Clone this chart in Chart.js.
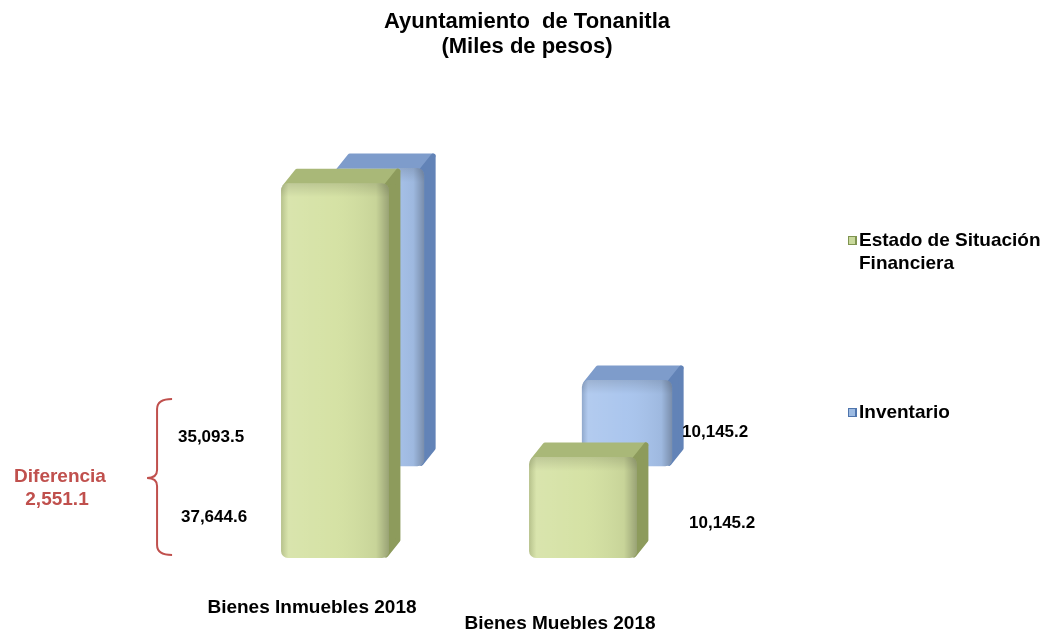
<!DOCTYPE html>
<html>
<head>
<meta charset="utf-8">
<script src="https://cdn.jsdelivr.net/npm/chart.js@4.4.1/dist/chart.umd.min.js"></script>
<style>
  html, body { margin: 0; background: #fff; }
  #wrap { width: 1045px; height: 632px; }
</style>
</head>
<body>
<div id="wrap"><canvas id="grafica"></canvas></div>
<script>
const categorias = ['Bienes Inmuebles 2018', 'Bienes Muebles 2018'];
const series = ['Estado de Situación Financiera', 'Inventario'];
const estadoSituacion = [37644.6, 10145.2];
const inventario = [35093.5, 10145.2];
const titulo = ['Ayuntamiento  de Tonanitla', '(Miles de pesos)'];

const FUENTE = '"Liberation Sans", Arial, sans-serif';
const ROJO = '#c0504d';

function fmt(v) {
  const [e, d] = v.toFixed(1).split('.');
  return e.replace(/\B(?=(\d{3})+(?!\d))/g, ',') + '.' + d;
}

// colores de las caras del "3D"
const caras = [
  { frente: '#d4e1a2', arriba: '#a9b878', lado: '#8d9b5c' },
  { frente: '#a8c4ed', arriba: '#7e9ccb', lado: '#6283b7' }
];
const prof = { dx: 12, dy: -15 };

const barras3d = {
  id: 'barras3d',
  beforeDatasetDraw(chart, args) {
    const ctx = chart.ctx;
    const c = caras[args.index];
    const { dx, dy } = prof;
    args.meta.data.forEach(b => {
      const l = b.x - b.width / 2, r = b.x + b.width / 2, t = b.y, base = b.base;
      ctx.save();
      ctx.lineJoin = 'round';
      ctx.lineWidth = 5;
      ctx.fillStyle = c.arriba; ctx.strokeStyle = c.arriba;
      ctx.beginPath();
      ctx.moveTo(l + 4, t + 3);
      ctx.lineTo(l + dx + 4, t + dy + 3);
      ctx.lineTo(r + dx - 3, t + dy + 3);
      ctx.lineTo(r - 3, t + 3);
      ctx.closePath(); ctx.fill(); ctx.stroke();
      ctx.fillStyle = c.lado; ctx.strokeStyle = c.lado;
      ctx.beginPath();
      ctx.moveTo(r - 3, t + 3);
      ctx.lineTo(r + dx - 3, t + dy + 3);
      ctx.lineTo(r + dx - 3, base + dy - 3);
      ctx.lineTo(r - 3, base - 3);
      ctx.closePath(); ctx.fill(); ctx.stroke();
      ctx.restore();
    });
  },
  afterDatasetDraw(chart, args) {
    const ctx = chart.ctx;
    args.meta.data.forEach(b => {
      const l = b.x - b.width / 2, w = b.width, t = b.y, h = b.base - b.y;
      const g = ctx.createLinearGradient(l, 0, l + w, 0);
      g.addColorStop(0, 'rgba(0,0,0,0.14)');
      g.addColorStop(0.07, 'rgba(255,255,255,0.12)');
      g.addColorStop(0.5, 'rgba(255,255,255,0.03)');
      g.addColorStop(0.88, 'rgba(0,0,0,0.06)');
      g.addColorStop(1, 'rgba(0,0,0,0.28)');
      ctx.save();
      ctx.fillStyle = g;
      ctx.beginPath();
      ctx.roundRect(l, t, w, h, 7);
      ctx.fill();
      const gv = ctx.createLinearGradient(0, t, 0, t + 14);
      gv.addColorStop(0, 'rgba(0,0,0,0.12)');
      gv.addColorStop(1, 'rgba(0,0,0,0)');
      ctx.fillStyle = gv;
      ctx.beginPath();
      ctx.roundRect(l, t, w, 14, [7, 7, 0, 0]);
      ctx.fill();
      ctx.restore();
    });
  }
};

const anotaciones = {
  id: 'anotaciones',
  afterDraw(chart) {
    const ctx = chart.ctx;
    const verde = chart.getDatasetMeta(0).data;
    const azul = chart.getDatasetMeta(1).data;
    ctx.save();

    // titulo
    ctx.fillStyle = '#000';
    ctx.textAlign = 'center';
    ctx.textBaseline = 'middle';
    ctx.font = 'bold 22px ' + FUENTE;
    ctx.fillText(titulo[0], 527, 22);
    ctx.fillText(titulo[1], 527, 47);

    // valores
    ctx.font = 'bold 17px ' + FUENTE;
    const g0 = verde[0], a1 = azul[1];
    const izq = g0.x - g0.width / 2;
    ctx.fillText(fmt(inventario[0]), izq - 70, g0.base - 121);
    ctx.fillText(fmt(estadoSituacion[0]), izq - 67, g0.base - 41);
    const der = a1.x + a1.width / 2;
    ctx.fillText(fmt(inventario[1]), der + 43, g0.base - 126);
    ctx.fillText(fmt(estadoSituacion[1]), der + 50, g0.base - 35);

    // llave y diferencia
    const bx = izq - 124, top = g0.base - 159, bot = g0.base - 3, mid = g0.base - 80;
    ctx.strokeStyle = ROJO;
    ctx.lineWidth = 2;
    ctx.beginPath();
    ctx.moveTo(bx + 15, top);
    ctx.quadraticCurveTo(bx, top, bx, top + 10);
    ctx.lineTo(bx, mid - 8);
    ctx.quadraticCurveTo(bx, mid, bx - 10, mid);
    ctx.quadraticCurveTo(bx, mid, bx, mid + 8);
    ctx.lineTo(bx, bot - 10);
    ctx.quadraticCurveTo(bx, bot, bx + 15, bot);
    ctx.stroke();
    ctx.fillStyle = ROJO;
    ctx.font = 'bold 19px ' + FUENTE;
    ctx.fillText('Diferencia', 60, mid - 1);
    ctx.fillText(fmt(estadoSituacion[0] - inventario[0]), 57, mid + 22);

    // leyenda
    ctx.textAlign = 'left';
    ctx.fillStyle = '#000';
    ctx.font = 'bold 19px ' + FUENTE;
    const cajas = [
      { y: 241, claro: '#c9d99c', oscuro: '#7f9450', lineas: ['Estado de Situación', 'Financiera'] },
      { y: 413, claro: '#9dbbe2', oscuro: '#4f75ad', lineas: [series[1]] }
    ];
    cajas.forEach(c => {
      ctx.fillStyle = c.oscuro;
      ctx.fillRect(848, c.y - 5, 9, 9);
      ctx.fillStyle = c.claro;
      ctx.fillRect(849, c.y - 4, 6, 7);
      ctx.fillStyle = '#000';
      c.lineas.forEach((t, i) => ctx.fillText(t, 859, c.y + i * 23));
    });
    ctx.restore();
  }
};

new Chart(document.getElementById('grafica'), {
  type: 'bar',
  data: {
    labels: categorias.map((c, i) => i === 1 ? ['', c] : c),
    datasets: [
      {
        label: series[0],
        data: estadoSituacion,
        yAxisID: 'y',
        backgroundColor: caras[0].frente,
        barPercentage: 2.45,
        categoryPercentage: 0.355,
        borderRadius: 7,
        borderSkipped: false
      },
      {
        label: series[1],
        data: inventario,
        yAxisID: 'y2',
        backgroundColor: caras[1].frente,
        barPercentage: 2.05,
        categoryPercentage: 0.355,
        borderRadius: 7,
        borderSkipped: false
      }
    ]
  },
  options: {
    responsive: true,
    maintainAspectRatio: false,
    animation: false,
    layout: { padding: { top: 100, left: 233, right: 316, bottom: -42 } },
    plugins: {
      legend: { display: false },
      title: { display: false },
      tooltip: { enabled: false }
    },
    scales: {
      x: {
        grid: { display: false, drawTicks: false },
        border: { display: false },
        ticks: {
          color: '#000',
          padding: 42,
          labelOffset: -45,
          maxRotation: 0,
          autoSkip: false,
          font: { family: FUENTE, size: 19, weight: 'bold', lineHeight: 16 / 19 }
        }
      },
      y: { display: false, min: 0, max: 46000 },
      y2: { display: false, position: 'right', min: -10800, max: 43100 }
    }
  },
  plugins: [barras3d, anotaciones]
});
</script>
</body>
</html>
